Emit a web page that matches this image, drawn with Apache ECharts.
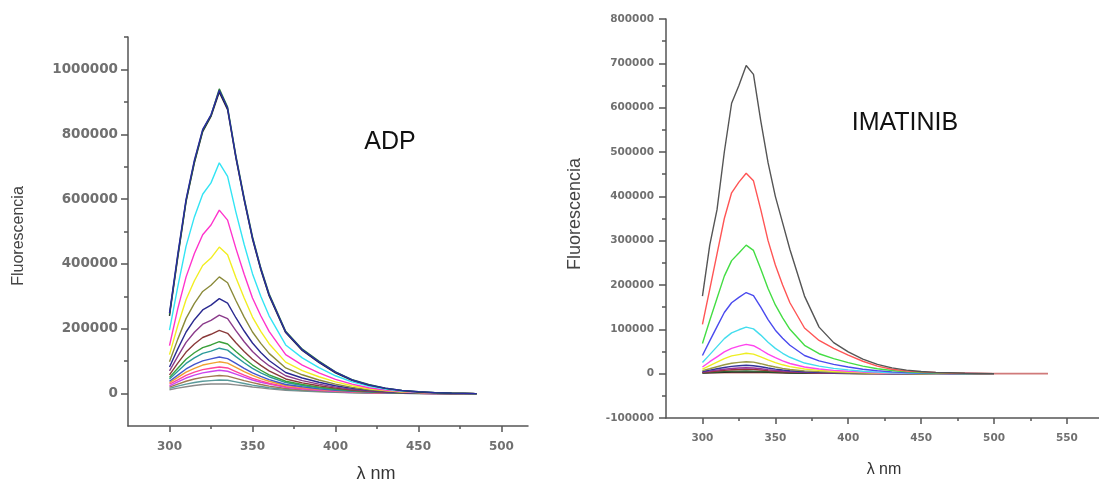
<!DOCTYPE html>
<html><head><meta charset="utf-8">
<script src="https://cdn.jsdelivr.net/npm/echarts@6/dist/echarts.min.js"></script>
<style>html,body{margin:0;padding:0;background:#fff}#c{width:1099px;height:483px}</style>
</head><body><div id="c"></div>
<script>
// ---------- ADP panel data ----------
const adpWavelength = [300,305,310,315,320,325,330,335,340,345,350,355,360,370,380,390,400,410,420,430,440,450,460,470,485];
const adpTopA  = [248000,430000,600000,720000,815000,860000,935000,880000,730000,600000,480000,385000,305000,190000,135000,98000,66000,42000,27000,17000,10000,6000,3000,1500,0];
const adpTopB  = [244000,425000,596000,716000,812000,858000,940000,884000,734000,604000,484000,388000,308000,192000,137000,100000,67000,43000,28000,17000,10000,6000,3000,1500,0];
const adpTopC  = [240000,420000,592000,712000,808000,855000,930000,876000,727000,597000,477000,382000,302000,188000,133000,96000,64000,41000,26000,16000,9000,5000,2500,1000,0];
const adpCyan  = [196000,330000,455000,545000,615000,650000,712000,670000,560000,460000,370000,300000,240000,150000,110000,80000,55000,36000,23000,14000,8000,4500,2500,1200,0];
const adpMag   = [148000,262000,360000,432000,490000,520000,566000,535000,448000,368000,295000,240000,192000,120000,88000,64000,44000,29000,18000,11000,6500,3500,2000,1000,0];
const adpYel   = [120000,210000,290000,348000,395000,418000,452000,428000,358000,295000,236000,192000,154000,97000,71000,52000,36000,24000,15000,9000,5000,3000,1500,800,0];
const adpOlive = [98000,168000,232000,278000,315000,334000,360000,342000,287000,236000,190000,155000,124000,79000,58000,42000,29000,19000,12000,7500,4500,2500,1200,600,0];
const adpNavy  = [82000,138000,190000,228000,258000,273000,293000,279000,234000,193000,156000,127000,102000,65000,48000,35000,24000,16000,10000,6000,3500,2000,1000,500,0];
const adpPurp  = [70000,115000,158000,189000,214000,226000,242000,231000,194000,160000,130000,106000,86000,55000,40000,29000,20000,13000,8500,5000,3000,1700,900,400,0];
const adpWine  = [58000,94000,128000,153000,173000,183000,195000,186000,157000,130000,106000,87000,70000,45000,33000,24000,17000,11000,7000,4200,2500,1400,700,300,0];
const adpGreen = [50000,78000,106000,126000,142000,150000,160000,153000,130000,108000,88000,72000,58000,38000,28000,20000,14000,9500,6000,3600,2100,1200,600,300,0];
const adpTeal  = [45000,69000,93000,110000,124000,131000,140000,134000,114000,95000,78000,64000,52000,34000,25000,18000,12500,8500,5400,3200,1900,1000,500,200,0];
const adpBlue  = [38000,57000,76000,90000,101000,107000,113000,108000,93000,78000,64000,53000,43000,28000,21000,15000,10500,7000,4500,2700,1600,900,400,200,0];
const adpOrng  = [34000,50000,66000,78000,88000,93000,98000,94000,81000,68000,56000,46000,38000,25000,18500,13500,9500,6300,4000,2400,1400,800,400,200,0];
const adpPink  = [29000,42000,56000,66000,74000,78000,82000,79000,68000,57000,47000,39000,32000,21000,15500,11500,8000,5300,3400,2000,1200,700,300,100,0];
const adpViol  = [24000,36000,48000,57000,64000,68000,72000,69000,60000,51000,42000,35000,29000,19000,14000,10500,7300,4800,3100,1800,1100,600,300,100,0];
const adpGray  = [20000,29000,38000,45000,50000,53000,56000,54000,47000,40000,34000,28000,23000,15500,11500,8500,6000,4000,2600,1500,900,500,200,100,0];
const adpTeal2 = [16000,23000,29000,34000,38000,40000,42000,41000,36000,31000,26000,22000,18000,12500,9300,7000,5000,3300,2100,1300,800,400,200,100,0];
const adpLow   = [12000,17000,21000,25000,28000,29500,30000,29500,27000,24000,20500,17500,14500,10000,7500,5700,4000,2700,1800,1100,600,300,200,100,0];

// ---------- IMATINIB panel data ----------
const imaWavelength = [300,305,310,315,320,325,330,335,340,345,350,355,360,370,380,390,400,410,420,430,440,450,460,470,480,490,500];
const imaBlack = [175000,290000,370000,500000,610000,650000,695000,675000,570000,476000,400000,340000,280000,175000,105000,70000,49000,33000,21000,13000,8000,5000,3000,2000,1000,500,0];
const imaRed   = [111000,190000,270000,350000,408000,432000,452000,435000,370000,300000,245000,200000,160000,103000,75000,57000,42000,28000,17000,10000,6000,4000,2500,1500,1000,500,0];
const imaGreen = [68000,120000,170000,220000,255000,272000,290000,278000,236000,192000,155000,126000,100000,64000,45000,34000,25000,17000,11000,7000,4000,2500,1500,1000,500,200,0];
const imaBlue  = [41000,74000,106000,138000,160000,172000,183000,176000,150000,122000,98000,80000,64000,41000,29000,21000,15000,10000,6500,4000,2500,1500,1000,500,300,100,0];
const imaCyan  = [25000,43000,61000,79000,92000,99000,105000,101000,87000,71000,57000,46000,37000,24000,17000,12000,8500,5500,3500,2200,1400,900,500,300,200,100,0];
const imaMag   = [15000,27000,38000,49000,57000,62000,66000,63000,54000,44000,36000,29000,23000,15000,10500,7500,5300,3500,2200,1400,900,600,300,200,100,0,0];
const imaYel   = [10000,18000,26000,34000,40000,43000,46000,44000,38000,31000,25000,20000,16000,10500,7500,5300,3700,2400,1500,1000,600,300,200,100,0,0,0];
const imaOlive = [7000,11000,15500,20000,23500,25500,27000,26000,22500,18500,15000,12000,9500,6300,4500,3200,2200,1500,1000,600,400,200,100,0,0,0,0];
const imaNavy  = [5000,8000,11000,14000,16500,18000,19000,18000,15500,12800,10300,8300,6600,4300,3100,2200,1500,1000,650,400,250,150,100,50,0,0,0];
const imaPurp  = [3500,5800,8000,10000,11800,12800,13500,12900,11000,9100,7300,5900,4700,3000,2200,1600,1100,700,450,300,200,100,50,0,0,0,0];
const imaWine  = [2800,4300,6000,7500,8700,9500,10000,9600,8200,6800,5500,4400,3500,2300,1600,1200,800,500,350,200,100,50,0,0,0,0,0];
const imaDkGrn = [2000,2800,3700,4600,5300,5700,6000,5800,5000,4200,3400,2800,2200,1500,1100,800,550,350,250,150,100,50,0,0,0,0,0];
const imaDark  = [1500,2000,2600,3100,3500,3800,4000,3900,3400,2900,2400,2000,1600,1100,800,600,400,250,150,100,50,0,0,0,0,0,0];
const imaBaseWavelength = [300,350,400,450,500,537];
const imaBase  = [2000,2000,1000,500,0,0];

// ---------- tick labels ----------
const adpXTicks = [300,350,400,450,500];
const adpXMinor = [325,375,425,475];
const adpYTicks = [0,200000,400000,600000,800000,1000000];
const adpYMinor = [100000,300000,500000,700000,900000,1100000];
const imaXTicks = [300,350,400,450,500,550];
const imaXMinor = [325,375,425,475,525];
const imaYTicks = [-100000,0,100000,200000,300000,400000,500000,600000,700000,800000];
const imaYMinor = [-50000,50000,150000,250000,350000,450000,550000,650000,750000];

// ---------- series / colours ----------
const adpSeries = [
  [adpLow,'#8a8a8a'],[adpTeal2,'#5a9a9a'],[adpGray,'#a07850'],[adpViol,'#cc44ee'],[adpPink,'#ff4499'],
  [adpOrng,'#f0a030'],[adpBlue,'#4455cc'],[adpTeal,'#2a9a9a'],[adpGreen,'#3aa03a'],[adpWine,'#8a3a3a'],
  [adpPurp,'#8a3a8a'],[adpNavy,'#2a2a90'],[adpOlive,'#8a8a3a'],[adpYel,'#f2ee22'],[adpMag,'#ff33cc'],
  [adpCyan,'#33e4f4'],[adpTopC,'#222222'],[adpTopB,'#2a7a3a'],[adpTopA,'#2a2aa0']
];
const imaSeries = [
  [imaDark,'#222222'],[imaDkGrn,'#336633'],[imaWine,'#993333'],[imaPurp,'#993399'],[imaNavy,'#333399'],
  [imaOlive,'#999944'],[imaYel,'#eeee22'],[imaMag,'#ff44ee'],[imaCyan,'#44ddee'],[imaBlue,'#4a4aee'],
  [imaGreen,'#44dd44'],[imaRed,'#ff5555'],[imaBlack,'#555555']
];

const tickFont = {fontFamily:'DejaVu Sans', fontWeight:'bold', color:'#707070', formatter:(v)=>String(v)};
const axisCol = '#555555';

function pair(xs, ys){ return xs.map((x,i)=>[x, ys[i]]); }

function majorX(min,max,ticks,gridIndex,fs,margin){
  return {type:'value', gridIndex, min, max, position:'bottom',
    axisLine:{show:true, onZero:false, lineStyle:{color:axisCol, width:1.5}},
    axisTick:{show:true, customValues:ticks, length:6, lineStyle:{color:axisCol, width:1.5}},
    axisLabel:{show:true, customValues:ticks, margin, fontSize:fs, ...tickFont},
    splitLine:{show:false}};
}
function minorX(min,max,ticks,gridIndex){
  return {type:'value', gridIndex, min, max, position:'bottom',
    axisLine:{show:false, onZero:false},
    axisTick:{show:true, customValues:ticks, length:3, lineStyle:{color:axisCol, width:1.5}},
    axisLabel:{show:false}, splitLine:{show:false}};
}
function majorY(min,max,ticks,gridIndex,fs,margin){
  return {type:'value', gridIndex, min, max, position:'left',
    axisLine:{show:true, onZero:false, lineStyle:{color:axisCol, width:1.5}},
    axisTick:{show:true, customValues:ticks, length:7, lineStyle:{color:axisCol, width:1.5}},
    axisLabel:{show:true, customValues:ticks, margin, fontSize:fs, ...tickFont},
    splitLine:{show:false}};
}
function minorY(min,max,ticks,gridIndex){
  return {type:'value', gridIndex, min, max, position:'left',
    axisLine:{show:false, onZero:false},
    axisTick:{show:true, customValues:ticks, length:4, lineStyle:{color:axisCol, width:1.5}},
    axisLabel:{show:false}, splitLine:{show:false}};
}

const series = [];
adpSeries.forEach(([d,c])=>series.push({type:'line', xAxisIndex:0, yAxisIndex:0, data:pair(adpWavelength,d),
  showSymbol:false, lineStyle:{color:c, width:1.4}, itemStyle:{color:c}, animation:false, silent:true}));
series.push({type:'line', xAxisIndex:2, yAxisIndex:2, data:pair(imaBaseWavelength,imaBase),
  showSymbol:false, lineStyle:{color:'#d07a7a', width:1.6}, animation:false, silent:true});
imaSeries.forEach(([d,c])=>series.push({type:'line', xAxisIndex:2, yAxisIndex:2, data:pair(imaWavelength,d),
  showSymbol:false, lineStyle:{color:c, width:1.4}, itemStyle:{color:c}, animation:false, silent:true}));

const chart = echarts.init(document.getElementById('c'), null, {renderer:'canvas'});
chart.setOption({
  backgroundColor:'#ffffff',
  animation:false,
  grid:[
    {left:128, top:37, width:400, height:389, containLabel:false},
    {left:666, top:19, width:433, height:399, containLabel:false}
  ],
  xAxis:[
    majorX(275,516,adpXTicks,0,12,15), minorX(275,516,adpXMinor,0),
    majorX(275,572,imaXTicks,1,10.5,15), minorX(275,572,imaXMinor,1)
  ],
  yAxis:[
    majorY(-100000,1100000,adpYTicks,0,13.5,10), minorY(-100000,1100000,adpYMinor,0),
    majorY(-100000,800000,imaYTicks,1,10.5,12), minorY(-100000,800000,imaYMinor,1)
  ],
  series,
  graphic:[
    {type:'text', x:390, y:142, style:{text:'ADP', fontFamily:'Liberation Sans', fontSize:25, fill:'#111', align:'center', verticalAlign:'middle'}},
    {type:'text', x:905, y:123, style:{text:'IMATINIB', fontFamily:'Liberation Sans', fontSize:25, fill:'#111', align:'center', verticalAlign:'middle'}},
    {type:'text', x:19, y:236, rotation:Math.PI/2, style:{text:'Fluorescencia', fontFamily:'Liberation Sans', fontSize:16, fill:'#444', align:'center', verticalAlign:'middle'}},
    {type:'text', x:575, y:214, rotation:Math.PI/2, style:{text:'Fluorescencia', fontFamily:'Liberation Sans', fontSize:18, fill:'#444', align:'center', verticalAlign:'middle'}},
    {type:'text', x:376, y:474, style:{text:'λ nm', fontFamily:'Liberation Sans', fontSize:18, fill:'#333', align:'center', verticalAlign:'middle'}},
    {type:'text', x:884, y:470, style:{text:'λ nm', fontFamily:'Liberation Sans', fontSize:16, fill:'#333', align:'center', verticalAlign:'middle'}}
  ]
});
</script>
</body></html>
